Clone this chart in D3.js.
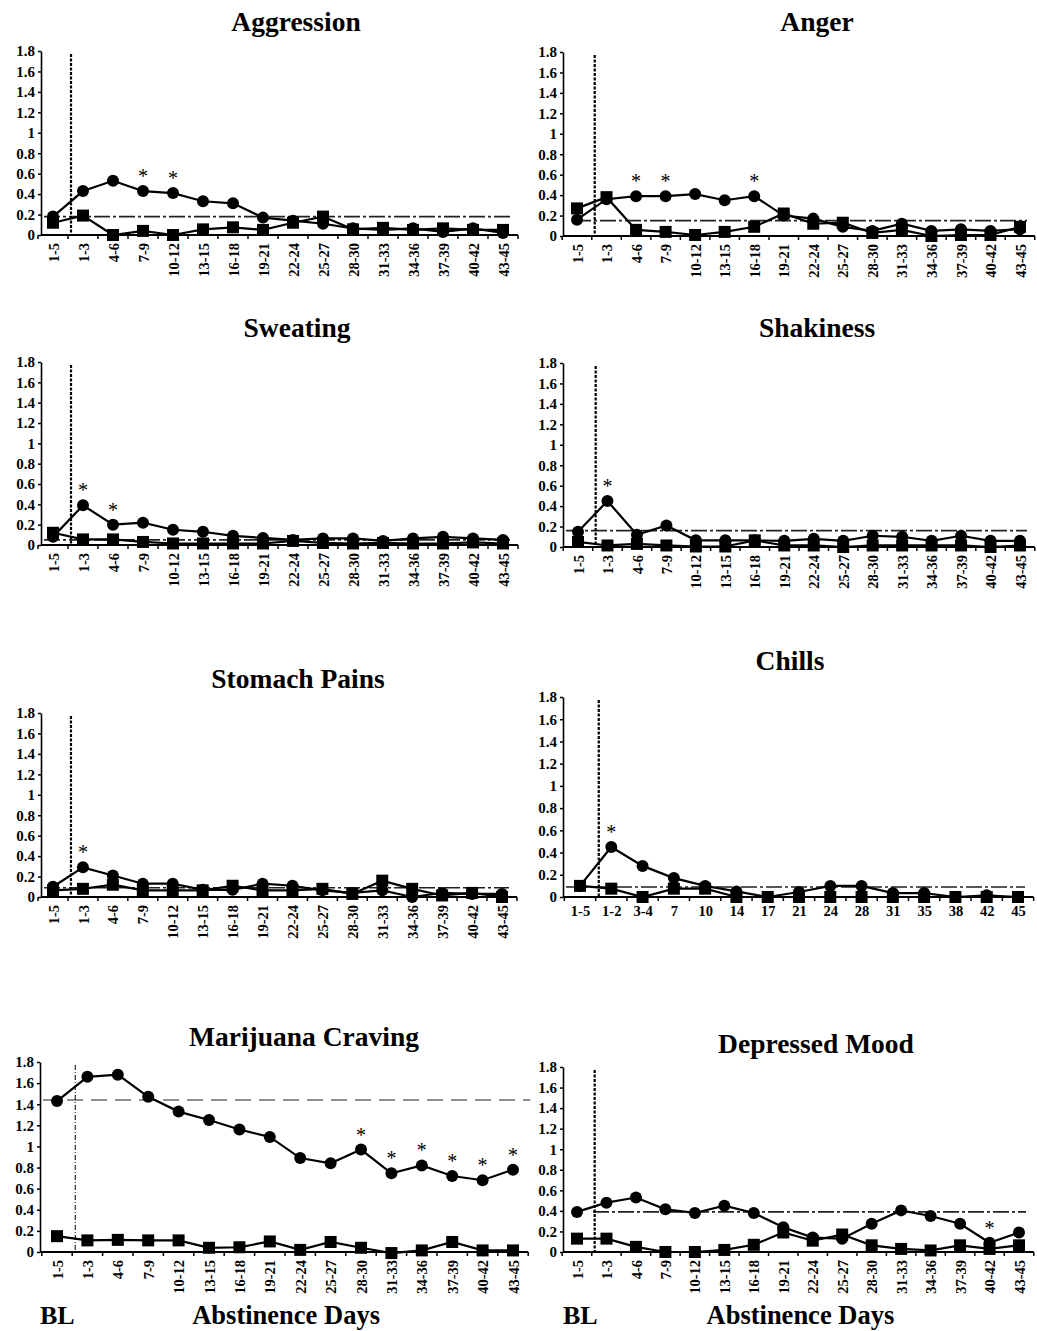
<!DOCTYPE html>
<html>
<head>
<meta charset="utf-8">
<script src="https://cdn.jsdelivr.net/npm/d3@7"></script>
<style>
	body { margin: 0; background: #fff; }
	svg text { font-family: "Liberation Serif", "Times New Roman", serif; font-weight: bold; fill: #000; }
</style>
</head>
<body>
<script>
// category labels
const dayLabels = ["1-5", "1-3", "4-6", "7-9", "10-12", "13-15", "16-18", "19-21", "22-24", "25-27", "28-30", "31-33", "34-36", "37-39", "40-42", "43-45"];
const chillsLabels = ["1-5", "1-2", "3-4", "7", "10", "14", "17", "21", "24", "28", "31", "35", "38", "42", "45"];
const yTicks = [0, 0.2, 0.4, 0.6, 0.8, 1, 1.2, 1.4, 1.6, 1.8];

// circle series (abstinent) and square series (control)
const aggressionCircle = [0.18, 0.43, 0.53, 0.43, 0.41, 0.33, 0.31, 0.17, 0.14, 0.11, 0.065, 0.05, 0.065, 0.03, 0.065, 0.02];
const aggressionSquare = [0.12, 0.19, 0.0, 0.04, 0.0, 0.055, 0.075, 0.05, 0.12, 0.18, 0.055, 0.07, 0.05, 0.065, 0.05, 0.05];
const angerCircle = [0.16, 0.36, 0.39, 0.39, 0.41, 0.35, 0.39, 0.2, 0.17, 0.09, 0.05, 0.12, 0.05, 0.065, 0.05, 0.065];
const angerSquare = [0.27, 0.38, 0.06, 0.04, 0.01, 0.04, 0.09, 0.22, 0.12, 0.13, 0.03, 0.06, 0.0, 0.01, 0.01, 0.09];
const sweatingCircle = [0.08, 0.39, 0.2, 0.22, 0.15, 0.13, 0.09, 0.07, 0.05, 0.065, 0.065, 0.04, 0.065, 0.08, 0.065, 0.05];
const sweatingSquare = [0.12, 0.055, 0.055, 0.03, 0.015, 0.015, 0.015, 0.015, 0.04, 0.02, 0.015, 0.02, 0.015, 0.015, 0.025, 0.015];
const shakinessCircle = [0.15, 0.45, 0.12, 0.21, 0.065, 0.065, 0.065, 0.06, 0.08, 0.06, 0.11, 0.1, 0.06, 0.11, 0.06, 0.06];
const shakinessSquare = [0.05, 0.015, 0.03, 0.015, 0.005, 0.005, 0.065, 0.015, 0.015, 0.0, 0.015, 0.015, 0.015, 0.015, 0.0, 0.015];
const stomachCircle = [0.1, 0.29, 0.21, 0.13, 0.13, 0.07, 0.07, 0.13, 0.11, 0.065, 0.04, 0.065, 0.0, 0.04, 0.03, 0.03];
const stomachSquare = [0.065, 0.08, 0.12, 0.065, 0.065, 0.065, 0.11, 0.065, 0.065, 0.08, 0.03, 0.16, 0.08, 0.015, 0.04, 0.0];
const chillsCircle = [0.1, 0.45, 0.28, 0.17, 0.1, 0.05, 0.0, 0.045, 0.1, 0.1, 0.035, 0.035, 0.0, 0.015, 0.0];
const chillsSquare = [0.1, 0.075, 0.0, 0.075, 0.075, 0.0, 0.0, 0.0, 0.0, 0.0, 0.0, 0.0, 0.0, 0.0, 0.0];
const cravingCircle = [1.43, 1.66, 1.68, 1.47, 1.33, 1.25, 1.16, 1.09, 0.89, 0.84, 0.97, 0.745, 0.82, 0.72, 0.68, 0.78];
const cravingSquare = [0.15, 0.11, 0.115, 0.11, 0.11, 0.04, 0.045, 0.1, 0.02, 0.095, 0.04, -0.01, 0.015, 0.095, 0.015, 0.015];
const depressedCircle = [0.39, 0.48, 0.53, 0.415, 0.38, 0.45, 0.38, 0.24, 0.14, 0.13, 0.275, 0.405, 0.35, 0.275, 0.09, 0.19];
const depressedSquare = [0.13, 0.13, 0.05, 0.0, 0.0, 0.02, 0.07, 0.19, 0.11, 0.17, 0.065, 0.03, 0.015, 0.065, 0.03, 0.065];

// baseline levels and significant points (index into categories)
const baselines = [0.18, 0.15, 0.05, 0.16, 0.09, 0.09, 1.44, 0.39];
const stars = [[3, 4], [2, 3, 6], [1, 2], [1], [1], [1], [10, 11, 12, 13, 14, 15], [14]];
const titles = ["Aggression", "Anger", "Sweating", "Shakiness", "Stomach Pains", "Chills", "Marijuana Craving", "Depressed Mood"];

// where each panel sits on the page
const layout = [
	{ axisX: 41, x0: 53, x1: 503, yTop: 51, yBot: 235, titleX: 296, titleY: 31 },
	{ axisX: 563, x0: 577, x1: 1020, yTop: 52, yBot: 236, titleX: 817, titleY: 31, lineFrom: 575 },
	{ axisX: 41, x0: 53, x1: 503, yTop: 362, yBot: 545, titleX: 297, titleY: 337 },
	{ axisX: 563, x0: 578, x1: 1020, yTop: 363, yBot: 547, titleX: 817, titleY: 337 },
	{ axisX: 41, x0: 53, x1: 502, yTop: 713, yBot: 897, titleX: 298, titleY: 688 },
	{ axisX: 563, x0: 580, x1: 1018, yTop: 697, yBot: 897, titleX: 790, titleY: 670, flat: true },
	{ axisX: 40, x0: 57, x1: 513, yTop: 1062, yBot: 1252, titleX: 304, titleY: 1046, thin: true },
	{ axisX: 563, x0: 577, x1: 1019, yTop: 1067, yBot: 1252, titleX: 816, titleY: 1053, lineFrom: 593 }
];

const panels = [
	{ cats: dayLabels, circle: aggressionCircle, square: aggressionSquare },
	{ cats: dayLabels, circle: angerCircle, square: angerSquare },
	{ cats: dayLabels, circle: sweatingCircle, square: sweatingSquare },
	{ cats: dayLabels, circle: shakinessCircle, square: shakinessSquare },
	{ cats: dayLabels, circle: stomachCircle, square: stomachSquare },
	{ cats: chillsLabels, circle: chillsCircle, square: chillsSquare },
	{ cats: dayLabels, circle: cravingCircle, square: cravingSquare },
	{ cats: dayLabels, circle: depressedCircle, square: depressedSquare }
];

const svg = d3.select("body").append("svg").attr("width", 1037).attr("height", 1331);

const drawPanel = (p, i) => {
	const L = layout[i];
	const g = svg.append("g");
	const x = d3.scalePoint().domain(p.cats).range([L.x0, L.x1]);
	const step = x.step();
	const y = d3.scaleLinear().domain([0, 1.8]).range([L.yBot, L.yTop]);
	const axisEnd = L.x1 + step / 2;

	g.append("text")
		.attr("x", L.titleX)
		.attr("y", L.titleY)
		.attr("text-anchor", "middle")
		.style("font-size", "27.5px")
		.text(titles[i]);

	// baseline mean level
	g.append("line")
		.attr("x1", L.lineFrom || L.axisX + 3)
		.attr("x2", L.thin ? axisEnd + 2 : L.x1 + 7)
		.attr("y1", y(baselines[i]))
		.attr("y2", y(baselines[i]))
		.attr("stroke", "#222")
		.attr("stroke-width", L.thin ? 1 : 1.6)
		.attr("stroke-dasharray", L.thin ? "16,8" : "16,3,3,3");

	// BL / abstinence separator
	const sepX = L.x0 + step * 0.6;
	g.append("line")
		.attr("x1", sepX)
		.attr("x2", sepX)
		.attr("y1", L.yTop + 3)
		.attr("y2", L.yBot)
		.attr("stroke", "#000")
		.attr("stroke-width", L.thin ? 1 : 2.2)
		.attr("stroke-dasharray", L.thin ? "5,2,1,2" : "3,1.5");

	const line = d3.line()
		.x((d, k) => x(p.cats[k]))
		.y((d) => y(d));

	[p.square, p.circle].forEach((s) => {
		g.append("path")
			.attr("d", line(s))
			.attr("fill", "none")
			.attr("stroke", "#000")
			.attr("stroke-width", 2.2);
	});

	g.selectAll(".sq")
		.data(p.square)
		.enter()
		.append("rect")
		.attr("x", (d, k) => x(p.cats[k]) - 6)
		.attr("y", (d) => y(d) - 6)
		.attr("width", 12)
		.attr("height", 12)
		.attr("fill", "#000");

	g.selectAll(".ci")
		.data(p.circle)
		.enter()
		.append("circle")
		.attr("cx", (d, k) => x(p.cats[k]))
		.attr("cy", (d) => y(d))
		.attr("r", 6)
		.attr("fill", "#000");

	g.selectAll(".star")
		.data(stars[i])
		.enter()
		.append("text")
		.attr("x", (k) => x(p.cats[k]))
		.attr("y", (k) => y(p.circle[k]) - 8)
		.attr("text-anchor", "middle")
		.style("font-size", "20px")
		.style("font-weight", "normal")
		.text("*");

	// y axis
	const yAxis = g.append("g")
		.attr("transform", `translate(${L.axisX},0)`)
		.call(d3.axisLeft(y).tickValues(yTicks).tickSize(3).tickSizeOuter(0).tickFormat((d) => String(+d.toFixed(1))));
	yAxis.select(".domain").attr("stroke-width", 1.6);
	yAxis.selectAll(".tick line").attr("stroke-width", 1.5);
	yAxis.selectAll("text").attr("x", -6).style("font-size", "15px").style("font-family", null);

	// x axis
	g.append("line")
		.attr("x1", L.axisX)
		.attr("x2", axisEnd)
		.attr("y1", L.yBot)
		.attr("y2", L.yBot)
		.attr("stroke", "#000")
		.attr("stroke-width", 2);
	g.selectAll(".xt")
		.data(d3.range(p.cats.length + 1))
		.enter()
		.append("line")
		.attr("x1", (k) => L.x0 - step / 2 + k * step)
		.attr("x2", (k) => L.x0 - step / 2 + k * step)
		.attr("y1", L.yBot)
		.attr("y2", L.yBot + 4)
		.attr("stroke", "#000")
		.attr("stroke-width", 1.5);

	const xAxis = g.append("g")
		.attr("transform", `translate(0,${L.yBot})`)
		.call(d3.axisBottom(x).tickSize(0));
	xAxis.select(".domain").remove();
	const labels = xAxis.selectAll("text").style("font-family", null);
	if (L.flat) {
		labels.attr("y", 9).style("font-size", "14.5px");
	} else {
		labels
			.attr("x", -8)
			.attr("y", 0)
			.attr("dy", "0.35em")
			.attr("transform", "rotate(-90)")
			.style("text-anchor", "end")
			.style("font-size", "14.5px");
	}

	if (i >= 6) {
		g.append("text")
			.attr("x", L.axisX)
			.attr("y", 1324)
			.style("font-size", "26px")
			.text("BL");
		g.append("text")
			.attr("x", (L.axisX + axisEnd) / 2 + 2)
			.attr("y", 1324)
			.attr("text-anchor", "middle")
			.style("font-size", "26.5px")
			.text("Abstinence Days");
	}
};

panels.forEach(drawPanel);
</script>
</body>
</html>
